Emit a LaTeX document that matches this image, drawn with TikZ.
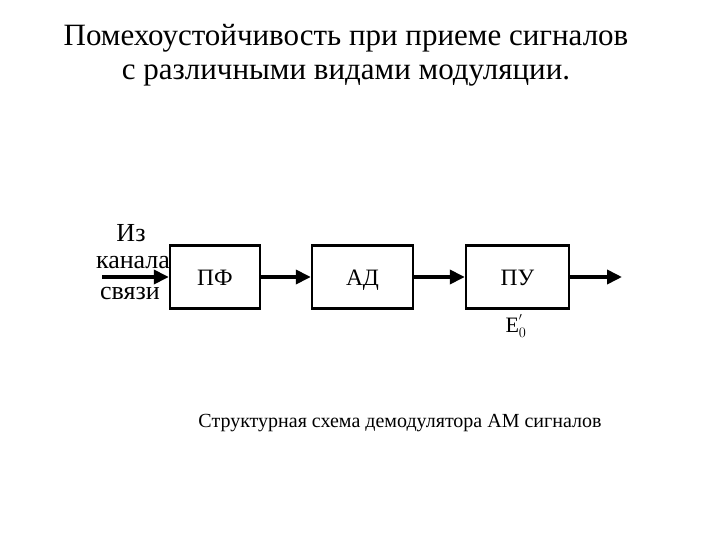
\documentclass[tikz,border=0pt]{standalone}
\usepackage{fontspec}
\setmainfont{Liberation Serif}
\usetikzlibrary{arrows.meta}
\begin{document}
\begin{tikzpicture}[x=1pt,y=-1pt,
  blk/.style={draw, line width=2.4pt, minimum width=#1, minimum height=63pt, inner sep=0pt,
    text height=16pt, text depth=0pt, font=\fontsize{23.5}{23.5}\selectfont},
  con/.style={line width=3.6pt, -{Triangle[length=15pt,width=14pt]}},
  lbl/.style={inner sep=0pt, font=\fontsize{26}{26}\selectfont}]
\useasboundingbox (0,0) rectangle (720,540);
\node[inner sep=0pt, align=center, font=\fontsize{31}{34}\selectfont] (title) at (346,55)
  {Помехоустойчивость при приеме сигналов\\с различными видами модуляции.};
\node[blk=90pt] (pf) at (215,277) {ПФ};
\node[blk=101pt] (ad) at (362.5,277) {АД};
\node[blk=103pt] (pu) at (517.5,277) {ПУ};
\coordinate (in) at (102,277);
\coordinate (out) at (622,277);
\draw[con] (in) -- (pf);
\draw[con] (pf) -- (ad);
\draw[con] (ad) -- (pu);
\draw[con] (pu) -- (out);
\node[lbl] (l1) at (131,233) {Из};
\node[lbl] (l2) at (133,263) {канала};
\node[lbl] (l3) at (130,294) {связи};
\node[lbl, font=\fontsize{22}{22}\selectfont] (e0) at (516,326) {E$_0^{'}$};
\node[inner sep=0pt, font=\fontsize{20}{20}\selectfont] (cap) at (400,423) {Структурная схема демодулятора АМ сигналов};
\end{tikzpicture}
\end{document}
